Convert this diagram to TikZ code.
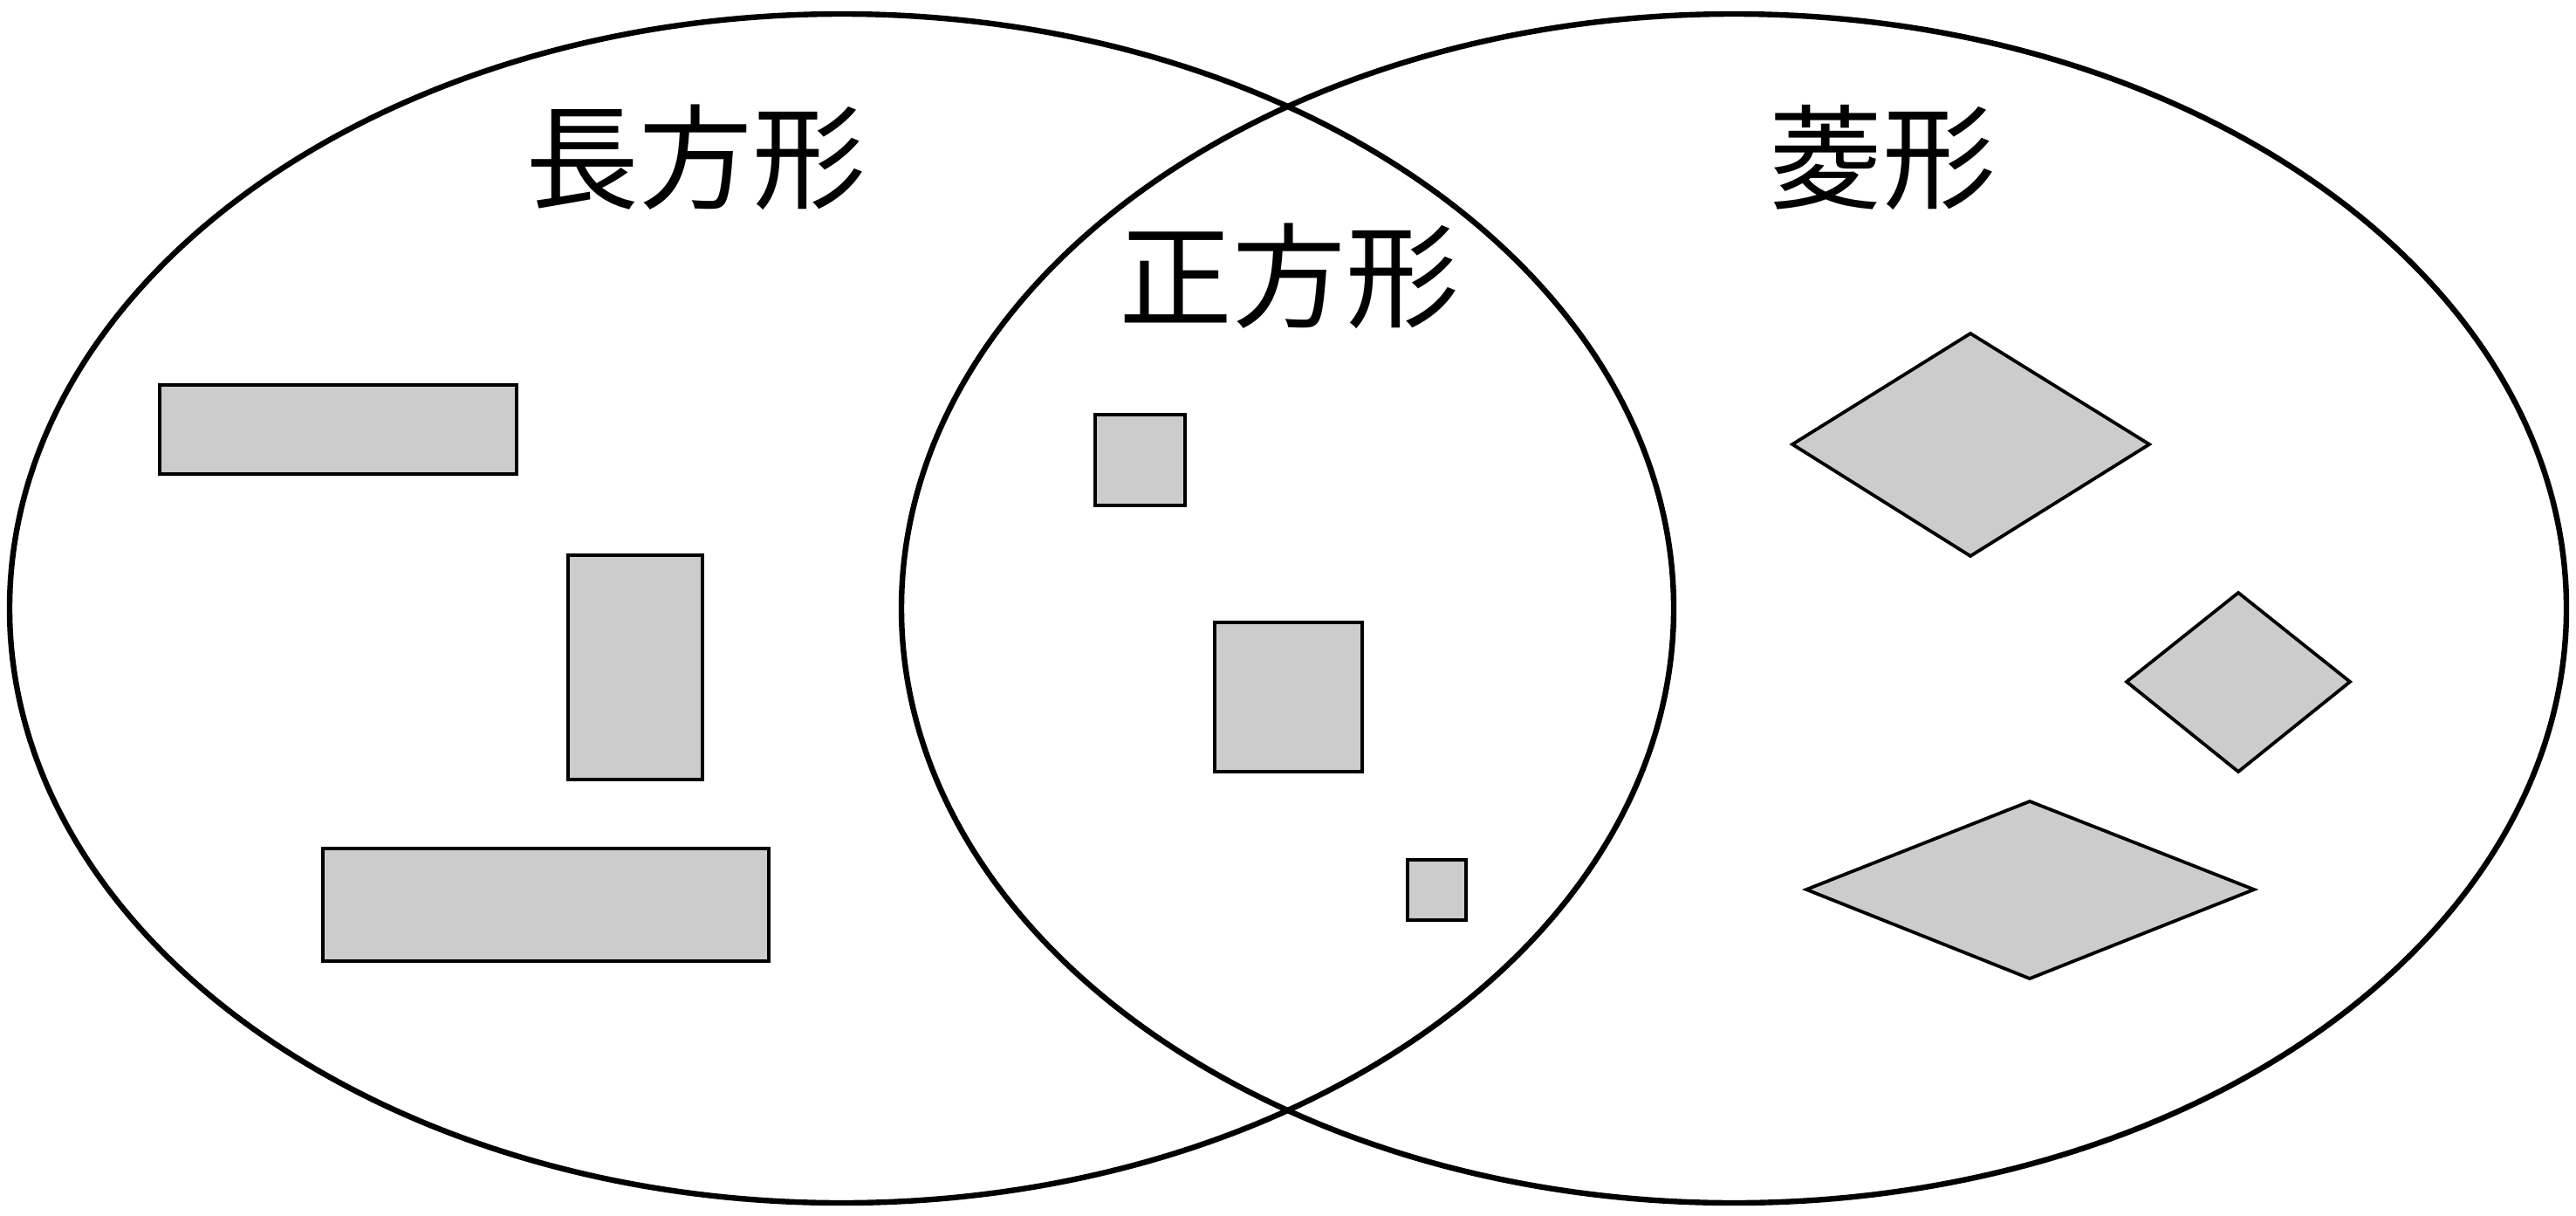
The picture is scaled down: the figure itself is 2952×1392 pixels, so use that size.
\documentclass[tikz,border=0pt]{standalone}
\usepackage{fontspec}
\newfontfamily\cjk{Noto Sans CJK JP}
\tikzset{
  setring/.style={draw=black, line width=1.6pt},
  shapebox/.style={draw=black, fill=shapegray, line width=0.95pt, line join=miter},
  setlabel/.style={font=\cjk\fontsize{32.5}{36}\selectfont, inner sep=0pt, anchor=center}
}
\definecolor{shapegray}{HTML}{CCCCCC}
\begin{document}
\begin{tikzpicture}[x=0.25pt,y=-0.25pt]
\useasboundingbox (0,0) rectangle (2952,1392);
% sets
\draw[setring] (964.5,697) ellipse [x radius=953.5, y radius=681];
\draw[setring] (1987,697) ellipse [x radius=954, y radius=681];
% labels
\node[setlabel] (rect) at (797,180) {長方形};
\node[setlabel] (sq) at (1477,316) {正方形};
\node[setlabel] (rh) at (2157,180) {菱形};
% rectangles
\draw[shapebox] (183,441) rectangle (592,543);
\draw[shapebox] (651,636) rectangle (805,893);
\draw[shapebox] (370,972) rectangle (881,1101);
% squares
\draw[shapebox] (1255,475) rectangle (1358,579);
\draw[shapebox] (1392,713) rectangle (1561,884);
\draw[shapebox] (1613,985) rectangle (1680,1054);
% rhombi
\draw[shapebox] (2054,509) -- (2258,382) -- (2463,509) -- (2258,637) -- cycle;
\draw[shapebox] (2437,781) -- (2565,679) -- (2693,781) -- (2565,884) -- cycle;
\draw[shapebox] (2070,1019) -- (2326,918) -- (2583,1019) -- (2326,1121) -- cycle;
\end{tikzpicture}
\end{document}
